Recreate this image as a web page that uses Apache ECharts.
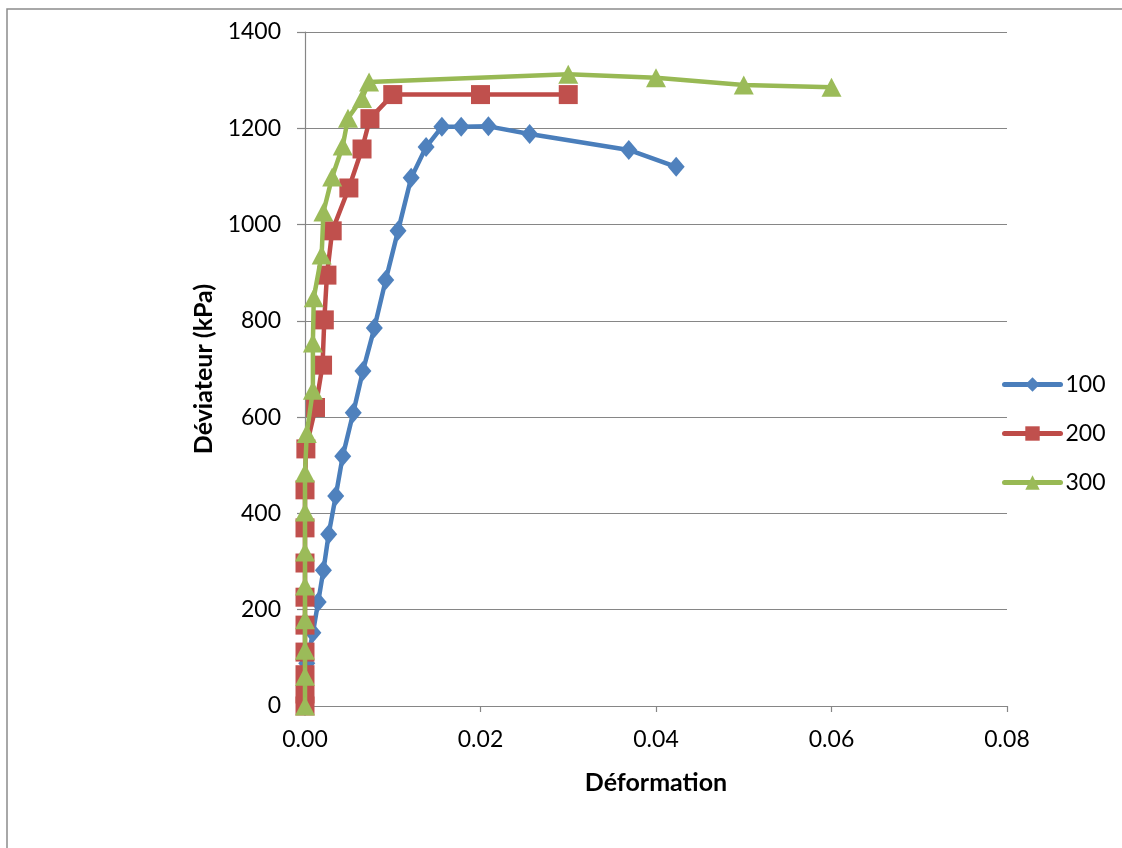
<!DOCTYPE html>
<html>
<head>
<meta charset="utf-8">
<title>Déviateur - Déformation</title>
<script src="https://cdn.jsdelivr.net/npm/echarts@6/dist/echarts.min.js"></script>
<style>
  html, body { margin: 0; padding: 0; background: #ffffff; }
  #chart { width: 1122px; height: 848px; }
</style>
</head>
<body>
<div id="chart"></div>
<script>
// Triaxial test curves: deviator stress vs axial strain, one curve per confining pressure
const seriesNames = ['100', '200', '300'];

const strain100 = [0, 0.0002, 0.0009, 0.0015, 0.0021, 0.0027, 0.0035, 0.0043, 0.0055, 0.0066, 0.0079,
  0.0092, 0.0106, 0.0121, 0.0138, 0.0156, 0.0178, 0.0209, 0.0256, 0.0369, 0.0423];
const stress100 = [0, 89, 152, 216, 282, 357, 436, 519, 609, 696, 785,
  885, 987, 1097, 1161, 1203, 1203, 1204, 1188, 1155, 1120];

const strain200 = [0, 0, 0, 0, 0, 0, 0, 0, 0, 0.0001, 0.0012, 0.0020, 0.0022, 0.0025, 0.0031,
  0.0050, 0.0065, 0.0074, 0.0100, 0.0200, 0.0300];
const stress200 = [0, 25, 65, 112, 168, 226, 297, 370, 449, 534, 620, 708, 802, 895, 987,
  1076, 1157, 1220, 1270, 1270, 1270];

const strain300 = [0, 0, 0, 0, 0, 0, 0, 0, 0.0002, 0.0009, 0.0009, 0.0010, 0.0019, 0.0021,
  0.0031, 0.0043, 0.0049, 0.0065, 0.0073, 0.0300, 0.0400, 0.0500, 0.0600];
const stress300 = [0, 62, 116, 179, 249, 320, 403, 484, 566, 656, 754, 848, 937, 1026,
  1099, 1163, 1221, 1262, 1296, 1312, 1305, 1290, 1285];

const xTicks = [0, 0.02, 0.04, 0.06, 0.08];
const yTicks = [0, 200, 400, 600, 800, 1000, 1200, 1400];

function pairs(xs, ys) {
  const out = [];
  for (let i = 0; i < Math.min(xs.length, ys.length); i++) out.push([xs[i], ys[i]]);
  return out;
}

const FONT = 'Lato';
const lineColors = ['#4A7EBB', '#BE4B48', '#98B954'];
const markColors = ['#4F81BD', '#C0504D', '#9BBB59'];
const symbols = ['diamond', 'rect', 'triangle'];
const symbolSizes = [[17, 20], 19, [20, 19]];
const dataSets = [pairs(strain100, stress100), pairs(strain200, stress200), pairs(strain300, stress300)];

const chart = echarts.init(document.getElementById('chart'), null, { renderer: 'canvas' });

chart.setOption({
  animation: false,
  backgroundColor: '#ffffff',
  textStyle: { fontFamily: FONT },
  graphic: [{
    type: 'rect',
    shape: { x: 7, y: 9, width: 1300, height: 1000 },
    style: { fill: 'none', stroke: '#8c8c8c', lineWidth: 1.5 },
    silent: true
  }],
  grid: { left: 305, right: 115, top: 32, bottom: 142, containLabel: false },
  legend: {
    orient: 'vertical',
    left: 997,
    top: 368,
    itemWidth: 56,
    itemHeight: 18,
    itemGap: 26,
    data: seriesNames,
    lineStyle: { width: 5, cap: 'round' },
    textStyle: { fontFamily: FONT, fontSize: 23, color: '#000000' }
  },
  xAxis: {
    type: 'value',
    min: xTicks[0],
    max: xTicks[xTicks.length - 1],
    interval: 0.02,
    name: 'Déformation',
    nameLocation: 'middle',
    nameGap: 64,
    nameTextStyle: { fontFamily: FONT, fontSize: 25, fontWeight: 'bold', color: '#000000' },
    axisLine: { show: true, lineStyle: { color: '#868686', width: 1.2 } },
    axisTick: { show: true, inside: false, length: 6, lineStyle: { color: '#868686', width: 1.2 } },
    axisLabel: {
      margin: 22, fontFamily: FONT, fontSize: 23, color: '#000000',
      formatter: v => v.toFixed(2)
    },
    splitLine: { show: false }
  },
  yAxis: {
    type: 'value',
    min: yTicks[0],
    max: yTicks[yTicks.length - 1],
    interval: 200,
    name: 'Déviateur (kPa)',
    nameLocation: 'middle',
    nameGap: 87,
    nameRotate: 90,
    nameTextStyle: { fontFamily: FONT, fontSize: 25, fontWeight: 'bold', color: '#000000' },
    axisLine: { show: true, lineStyle: { color: '#868686', width: 1.2 } },
    axisTick: { show: true, inside: false, length: 8, lineStyle: { color: '#868686', width: 1.2 } },
    axisLabel: { margin: 24, fontFamily: FONT, fontSize: 23, color: '#000000', formatter: v => String(v) },
    splitLine: { show: true, lineStyle: { color: '#868686', width: 1.2 } }
  },
  series: seriesNames.map((name, i) => ({
    name: name,
    type: 'line',
    data: dataSets[i],
    symbol: symbols[i],
    symbolSize: symbolSizes[i],
    showAllSymbol: true,
    lineStyle: { color: lineColors[i], width: 4.5, cap: 'round', join: 'round' },
    itemStyle: { color: markColors[i], borderColor: markColors[i], borderWidth: 0 },
    emphasis: { disabled: true },
    z: 2 + i
  }))
});
</script>
</body>
</html>
